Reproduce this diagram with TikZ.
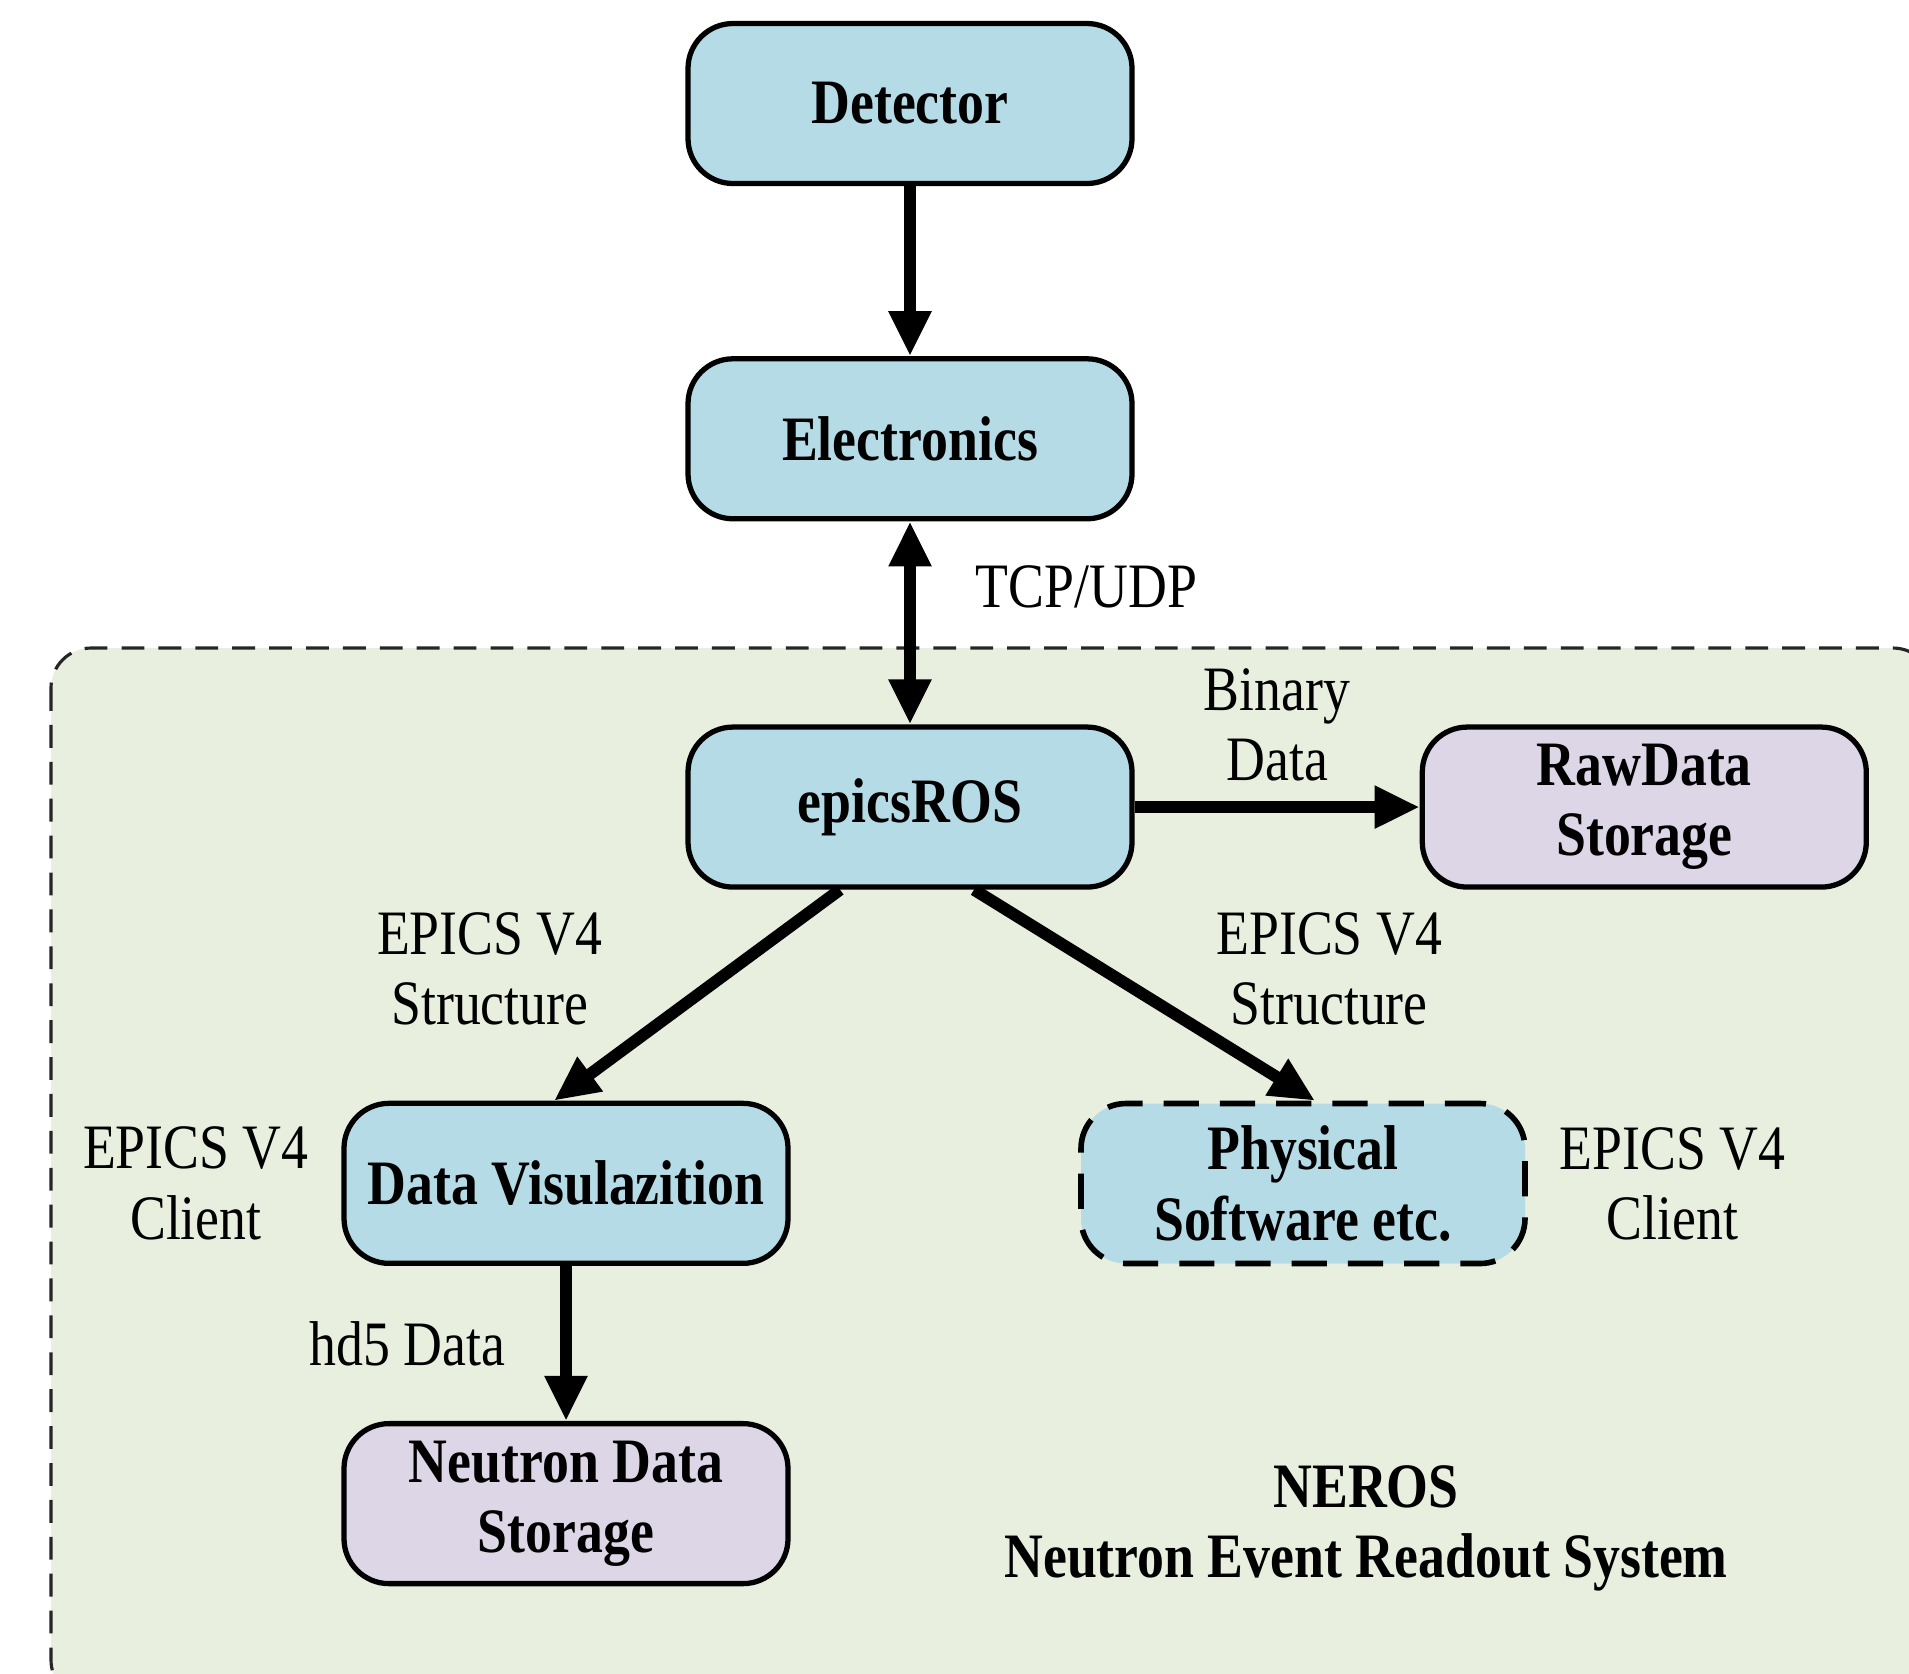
\documentclass[tikz,border=0pt]{standalone}
\usepackage{fontspec}
\setmainfont[FakeStretch=0.85]{Liberation Serif}
\usetikzlibrary{positioning}
\usetikzlibrary{arrows.meta}

\definecolor{boxblue}{HTML}{B5DCE6}
\definecolor{boxpurple}{HTML}{DCD6E6}
\definecolor{regiongreen}{HTML}{E8EFDE}

\begin{document}
\begin{tikzpicture}[
    font=\fontsize{18}{20}\selectfont,
    >={Triangle[length=4.5mm,width=4mm]},
    unit/.style={draw,line width=1.5pt,rounded corners=0.45cm,fill=boxblue,
      minimum width=4.44cm,minimum height=1.60cm,inner sep=2pt,align=center,
      font=\fontsize{18}{20}\selectfont\bfseries},
    store/.style={unit,fill=boxpurple},
    client/.style={unit,dash pattern=on 10pt off 6pt,line width=1.6pt},
    lbl/.style={inner sep=0pt,align=center},
    flow/.style={line width=3.4pt},
    region/.style={draw=black!85,fill=regiongreen,line width=0.9pt,
      dash pattern=on 6.5pt off 4pt,rounded corners=0.4cm}
    ]

    \useasboundingbox (0,0) rectangle (19.09,-16.73);
    \begin{scope}
      \clip (0,0) rectangle (19.09,-16.73);
      \draw[region] (0.51,-6.48) rectangle (19.33,-17.0);
    \end{scope}

    \node[unit] at (9.10,-1.035) (det) {Detector};
    \node[unit, below=1.70cm of det] (elec) {Electronics};
    \node[unit, below=2.03cm of elec] (ros) {epicsROS};
    \node[store, right=2.85cm of ros] (raw) {RawData\\Storage};

    \node[unit, below=2.11cm of ros, xshift=-3.44cm] (vis) {Data Visulazition};
    \node[client, below=2.11cm of ros, xshift=3.93cm] (phys) {Physical\\Software etc.};
    \node[store, below=1.55cm of vis] (neu) {Neutron Data\\Storage};

    \node[lbl, below left=0.22cm and 0.82cm of ros] (visstruct) {EPICS V4\\Structure};
    \node[lbl, below right=0.22cm and 0.81cm of ros] (physstruct) {EPICS V4\\Structure};
    \node[lbl, left=0.32cm of vis] (visclient) {EPICS V4\\Client};
    \node[lbl, right=0.31cm of phys] (physclient) {EPICS V4\\Client};
    \node[lbl, right=2.13cm of neu, yshift=-0.25cm,
      font=\fontsize{18}{20}\selectfont\bfseries] (neros) {NEROS\\Neutron Event Readout System};

    \path[flow] (det) edge[->] (elec)
    (elec) edge[<->] node[lbl, pos=0.32, right=0.6cm] (tcp) {TCP/UDP} (ros)
    (ros) edge[->] node[lbl, above=0.2cm] (bin) {Binary\\Data} (raw)
    ([xshift=-0.7cm]ros.south) edge[->] ([xshift=-0.12cm]vis.north)
    ([xshift=0.64cm]ros.south) edge[->] ([xshift=0.12cm]phys.north)
    (vis) edge[->] node[lbl, left=0.55cm] (hd) {hd5 Data} (neu)
    ;

  \end{tikzpicture}
\end{document}
